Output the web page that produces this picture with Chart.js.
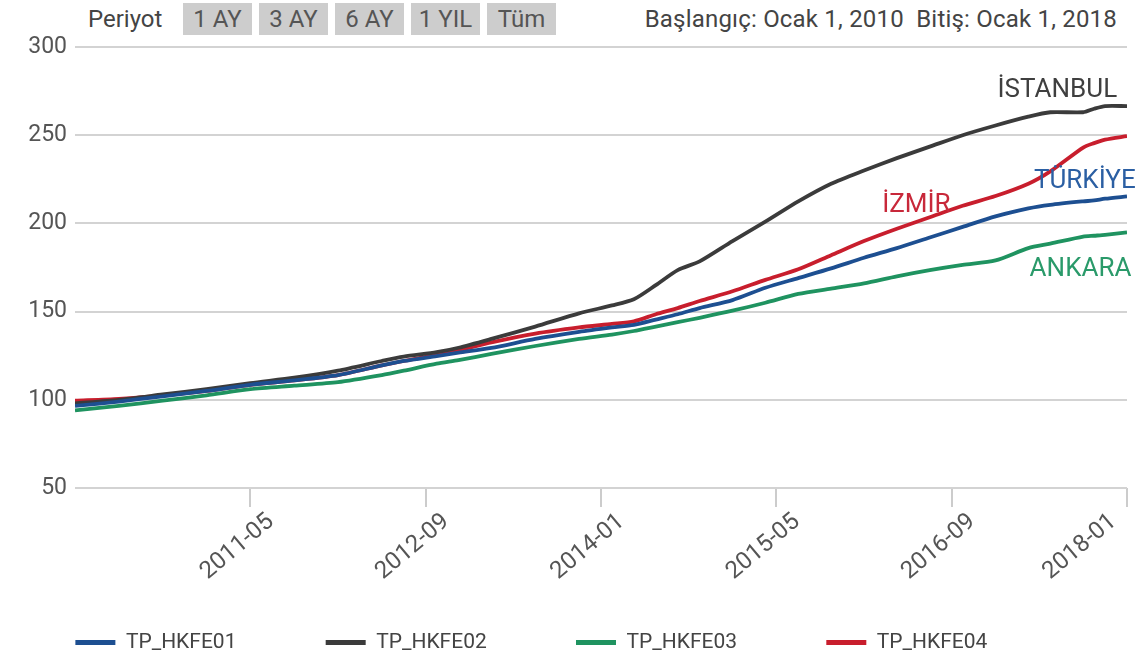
<!DOCTYPE html>
<html lang="tr">
<head>
<meta charset="utf-8">
<title>Konut fiyat endeksi</title>
<script src="https://cdn.jsdelivr.net/npm/chart.js@4.4.1/dist/chart.umd.min.js"></script>
<style>
  html, body { margin: 0; padding: 0; background: #fff; }
  body { width: 1144px; height: 667px; position: relative; overflow: hidden;
         font-family: Roboto, "Noto Sans", sans-serif; color: #555; }
  #kutu { position: absolute; left: 0; top: 0; width: 1144px; height: 667px; }
  .ust { position: absolute; top: 3px; height: 32px; line-height: 32px; font-size: 24px; }
  #periyot { left: 88px; color: #444; }
  #butonlar { left: 183px; display: flex; gap: 7px; }
  #butonlar span { display: inline-block; width: 69px; text-align: center; background: #cdcdcd; color: #555; }
  #tarih { right: 27px; color: #444; letter-spacing: 0.2px; }
</style>
</head>
<body>
<div class="ust" id="periyot">Periyot</div>
<div class="ust" id="butonlar"><span>1 AY</span><span>3 AY</span><span>6 AY</span><span>1 YIL</span><span>Tüm</span></div>
<div class="ust" id="tarih">Başlangıç: Ocak 1, 2010&nbsp;&nbsp;Bitiş: Ocak 1, 2018</div>
<div id="kutu"><canvas id="grafik"></canvas></div>
<script>
const aylar = ['2010-01', '2010-05', '2010-09', '2011-01', '2011-05', '2011-09', '2012-01', '2012-05',
  '2012-07', '2012-10', '2012-12', '2013-03', '2013-07', '2013-11', '2014-02', '2014-04', '2014-06',
  '2014-08', '2014-10', '2015-01', '2015-04', '2015-07', '2015-10', '2016-01', '2016-04', '2016-07',
  '2016-10', '2017-01', '2017-04', '2017-06', '2017-09', '2017-10', '2017-11', '2018-01'];

const turkiye = [96.5, 99, 102, 105, 108.5, 111, 114, 119.5, 122, 124.8, 126.7, 129.4, 134.5, 138.5, 141,
  142.5, 145.5, 148.5, 152, 156.5, 163.5, 169, 174.5, 180.5, 186, 192, 198, 204, 208.5, 210.5, 212.5,
  213, 214, 215.3];
const istanbul = [98, 100, 103, 106, 109.5, 112.5, 116.5, 122, 124.5, 127, 129.5, 134.5, 141.5, 149,
  153.5, 157, 165, 173.5, 178.5, 190, 201, 212.5, 222.5, 230, 237, 243.5, 250, 255.5, 260.5, 263, 263,
  265, 266.5, 266.5];
const ankara = [94, 96.5, 99.5, 102.5, 106, 108, 110, 114, 116.5, 120.5, 122.5, 126, 130.5, 134.5, 137,
  139, 141.5, 144, 146.5, 150.5, 155, 160, 163, 166, 170, 173.5, 176.5, 179, 186, 188.5, 192.5, 193,
  193.5, 194.9];
const izmir = [99.5, 100.5, 102.5, 105, 108.5, 111, 114, 119.5, 122, 125.5, 128, 132.5, 137.5, 141, 143,
  144.5, 148.5, 152, 156, 161.5, 168, 174, 182, 190, 197, 203.5, 210, 215.5, 222.5, 229.5, 243,
  245.5, 247.5, 249.5];

const seriAdlari = ['TP_HKFE01', 'TP_HKFE02', 'TP_HKFE03', 'TP_HKFE04'];
const xEtiketleri = ['2011-05', '2012-09', '2014-01', '2015-05', '2016-09', '2018-01'];
const yEtiketleri = [50, 100, 150, 200, 250, 300];
const sehirler = ['TÜRKİYE', 'İSTANBUL', 'ANKARA', 'İZMİR'];

const renkler = ['#1d4f91', '#3b3b3b', '#1f9360', '#c81e2d'];

// ay numarasi: 2010-01 = 0
function ayNo(s) {
  const [y, m] = s.split('-').map(Number);
  return (y - 2010) * 12 + (m - 1);
}
function noktalar(degerler) {
  return aylar.map((a, i) => ({ x: ayNo(a), y: degerler[i] }));
}

// sehir etiketleri, veri biriminde konum (sag kenar, orta)
const etiketYerleri = [
  { ay: 96.8, deger: 224, renk: '#2b5fa3' },
  { ay: 95.1, deger: 275.5, renk: '#3f3f3f' },
  { ay: 96.4, deger: 173.6, renk: '#2a9a6a' },
  { ay: 79.9, deger: 210.4, renk: '#c8283a' }
];

const sehirEtiketleri = {
  id: 'sehirEtiketleri',
  afterDatasetsDraw(chart) {
    const { ctx, scales: { x, y } } = chart;
    ctx.save();
    ctx.font = '26px Roboto';
    ctx.textAlign = 'right';
    ctx.textBaseline = 'middle';
    sehirler.forEach((ad, i) => {
      const e = etiketYerleri[i];
      ctx.fillStyle = e.renk;
      ctx.fillText(ad, x.getPixelForValue(e.ay), y.getPixelForValue(e.deger));
    });
    ctx.restore();
  }
};

// egik x etiketleri, tikin biraz soluna ortalanmis
const xYazilari = {
  id: 'xYazilari',
  afterDraw(chart) {
    const { ctx, scales: { x } } = chart;
    ctx.save();
    ctx.font = '24px Roboto';
    ctx.fillStyle = '#555';
    ctx.textAlign = 'center';
    ctx.textBaseline = 'middle';
    x.ticks.forEach((t, i) => {
      let cx = x.getPixelForValue(t.value) - 13;
      cx = Math.min(cx, chart.width - 64);
      ctx.save();
      ctx.translate(cx, x.top + 59);
      ctx.rotate(-40 * Math.PI / 180);
      ctx.fillText(xEtiketleri[i], 0, 0);
      ctx.restore();
    });
    ctx.restore();
  }
};

const veriler = [turkiye, istanbul, ankara, izmir];

new Chart(document.getElementById('grafik'), {
  type: 'line',
  data: {
    datasets: seriAdlari.map((ad, i) => ({
      label: ad,
      data: noktalar(veriler[i]),
      borderColor: renkler[i],
      backgroundColor: renkler[i],
      borderWidth: 3.8,
      pointRadius: 0,
      tension: 0.25,
      fill: false
    }))
  },
  options: {
    responsive: true,
    maintainAspectRatio: false,
    animation: false,
    layout: { padding: { top: 47, right: 17, bottom: 4, left: 0 } },
    plugins: {
      tooltip: { enabled: false },
      legend: {
        position: 'bottom',
        labels: {
          boxWidth: 40,
          boxHeight: 5,
          padding: 10,
          color: '#444',
          font: { family: 'Roboto', size: 21 },
          generateLabels(chart) {
            const items = Chart.defaults.plugins.legend.labels.generateLabels(chart);
            items.forEach((it, i) => {
              it.lineWidth = 0;
              if (i < items.length - 1) it.text += '\u2003\u2003\u2003\u2002\u2009';
              else it.text += '\u2003\u2003\u2003';
            });
            return items;
          }
        }
      }
    },
    scales: {
      x: {
        type: 'linear',
        min: 0,
        max: 96,
        afterBuildTicks(s) {
          s.ticks = xEtiketleri.map(l => ({ value: ayNo(l) }));
        },
        afterFit(s) { s.height = 134; },
        border: { display: false },
        grid: { drawOnChartArea: false, drawTicks: true, tickLength: 19, color: '#cccccc', lineWidth: 2 },
        ticks: { display: false }
      },
      y: {
        min: 50,
        max: 300,
        afterBuildTicks(s) {
          s.ticks = yEtiketleri.map(v => ({ value: v }));
        },
        afterFit(s) { s.width = 75; },
        border: { display: false },
        grid: { color: '#d3d3d3', lineWidth: 2, drawTicks: false },
        ticks: { padding: 8, color: '#555', font: { family: 'Roboto', size: 23 } }
      }
    }
  },
  plugins: [sehirEtiketleri, xYazilari]
});
</script>
</body>
</html>
